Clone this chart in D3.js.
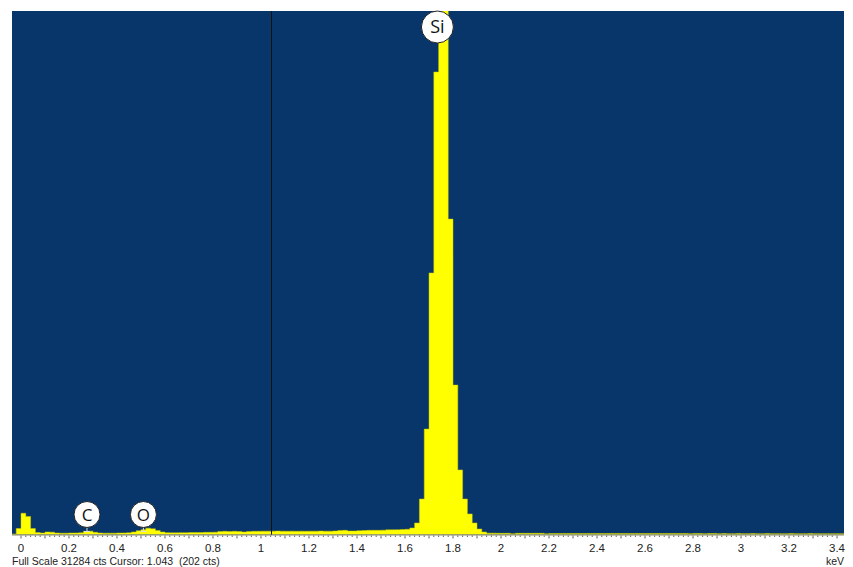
<!DOCTYPE html>
<html>
<head>
<meta charset="utf-8">
<script src="https://d3js.org/d3.v7.min.js"></script>
<style>
  body { margin: 0; background: #fff; }
  svg { display: block; }
</style>
</head>
<body>
<div id="spectrum"></div>
<script>
// channel counts, 0.02 keV per channel, first channel starts at -0.04 keV
const binStart = -0.04;
const binWidth = 0.02;
const counts = [
    30, 360, 1270, 1080, 360, 120, 90, 150, 140, 90,          // -0.04
    80, 80, 90, 90, 100, 190, 200, 130, 90, 80,               // 0.16
    80, 80, 90, 90, 100, 150, 230, 290, 380, 340,             // 0.36
    240, 150, 110, 100, 100, 110, 110, 120, 120, 120,         // 0.56
    130, 130, 140, 180, 190, 180, 190, 180, 150, 180,         // 0.76
    190, 190, 200, 200, 200, 205, 200, 195, 200, 195,         // 0.96
    200, 195, 200, 200, 205, 200, 200, 210, 240, 250,         // 1.16
    210, 210, 230, 240, 250, 250, 250, 260, 280, 280,         // 1.36
    290, 300, 310, 390, 690, 2120, 6300, 15630, 27640, 38500, // 1.56
    35200, 18850, 8930, 3860, 2120, 1230, 690, 330, 150, 80,  // 1.76
    80, 70, 70, 70, 40, 70, 70, 70, 70, 70,                   // 1.96
    70, 40, 60, 60, 60, 60, 60, 60, 60, 60,                   // 2.16
    60, 55, 60, 55, 60, 60, 55, 60, 55, 60,                   // 2.36
    55, 60, 55, 55, 60, 55, 55, 60, 55, 55,                   // 2.56
    55, 50, 55, 55, 50, 55, 55, 50, 55, 50,                   // 2.76
    50, 55, 50, 50, 55, 50, 50, 55, 50, 50,                   // 2.96
    50, 50, 55, 50, 50, 50, 55, 50, 50, 50,                   // 3.16
    50, 50, 50, 50                                            // 3.36
];

const fullScale = 31284;
const cursorKeV = 1.043;
const cursorCts = 202;
const tickLabels = [0, 0.2, 0.4, 0.6, 0.8, 1, 1.2, 1.4, 1.6, 1.8, 2, 2.2, 2.4, 2.6, 2.8, 3, 3.2, 3.4];

// element markers
const elements = ["C", "O", "Si"];
const elementKeV = [0.275, 0.51, 1.735];

const width = 853;
const height = 567;
const plotL = 12, plotT = 11, plotR = 844, plotB = 534.5;

const svg = d3.select("#spectrum")
    .append("svg")
    .attr("width", width)
    .attr("height", height);

const x = d3.scaleLinear()
    .domain([-0.0375, 3.429])
    .range([plotL, plotR]);

const y = d3.scaleLinear()
    .domain([0, fullScale])
    .range([plotB, plotT]);

svg.append("defs").append("clipPath")
    .attr("id", "plot-clip")
    .append("rect")
    .attr("x", plotL)
    .attr("y", plotT)
    .attr("width", plotR - plotL)
    .attr("height", plotB - plotT);

// plot background
svg.append("rect")
    .attr("x", plotL)
    .attr("y", plotT)
    .attr("width", plotR - plotL)
    .attr("height", plotB - plotT)
    .attr("fill", "#08366a");

// spectrum as stepped area
const pts = counts.map((c, i) => [binStart + i * binWidth, c]);
pts.push([binStart + counts.length * binWidth, counts[counts.length - 1]]);

const area = d3.area()
    .x(d => x(d[0]))
    .y0(y(0))
    .y1(d => y(d[1]))
    .curve(d3.curveStepAfter);

svg.append("g")
    .attr("clip-path", "url(#plot-clip)")
    .append("path")
    .datum(pts)
    .attr("d", area)
    .attr("fill", "#ffff00")
    .attr("stroke", "#c8c800")
    .attr("stroke-width", 0.5);

// cursor line
svg.append("line")
    .attr("x1", x(cursorKeV))
    .attr("x2", x(cursorKeV))
    .attr("y1", plotT)
    .attr("y2", plotB)
    .attr("stroke", "#111")
    .attr("stroke-width", 1)
    .attr("shape-rendering", "crispEdges");

// axis line and ticks
svg.append("line")
    .attr("x1", plotL)
    .attr("x2", plotR)
    .attr("y1", plotB + 0.5)
    .attr("y2", plotB + 0.5)
    .attr("stroke", "#8a8a6a")
    .attr("stroke-width", 1);

const minorTicks = d3.range(0, 171).map(i => i * 0.02);
svg.append("g")
    .selectAll("line")
    .data(minorTicks)
    .join("line")
    .attr("x1", d => x(d))
    .attr("x2", d => x(d))
    .attr("y1", plotB + 1)
    .attr("y2", (d, i) => plotB + (i % 5 === 0 ? 4 : 2.5))
    .attr("stroke", "#666")
    .attr("stroke-width", 1);

svg.append("g")
    .selectAll("text")
    .data(tickLabels)
    .join("text")
    .attr("x", d => x(d))
    .attr("y", 552)
    .attr("text-anchor", "middle")
    .attr("font-family", "Liberation Sans, Arial, sans-serif")
    .attr("font-size", 11.5)
    .attr("fill", "#222")
    .text(d => d);

svg.append("text")
    .attr("x", 12)
    .attr("y", 565)
    .attr("font-family", "Liberation Sans, Arial, sans-serif")
    .attr("font-size", 10.5)
    .attr("fill", "#222")
    .attr("xml:space", "preserve")
    .text(`Full Scale ${fullScale} cts Cursor: ${cursorKeV}  (${cursorCts} cts)`);

svg.append("text")
    .attr("x", 844)
    .attr("y", 565)
    .attr("text-anchor", "end")
    .attr("font-family", "Liberation Sans, Arial, sans-serif")
    .attr("font-size", 10.5)
    .attr("fill", "#222")
    .text("keV");

// element labels
const marks = svg.append("g");
elements.forEach((el, i) => {
    const cx = x(elementKeV[i]);
    const big = el === "Si";
    const r = big ? 16 : 13;
    const cy = big ? plotT + r : 514.5;
    if (!big) {
        marks.append("line")
            .attr("x1", cx).attr("x2", cx)
            .attr("y1", cy + r).attr("y2", cy + r + 4)
            .attr("stroke", "#ddd").attr("stroke-width", 1);
        marks.append("line")
            .attr("x1", cx - 3).attr("x2", cx + 3)
            .attr("y1", cy + r + 4).attr("y2", cy + r + 4)
            .attr("stroke", "#ddd").attr("stroke-width", 1);
    }
    marks.append("circle")
        .attr("cx", cx)
        .attr("cy", cy)
        .attr("r", r)
        .attr("fill", "#fff")
        .attr("stroke", "#222")
        .attr("stroke-width", 1);
    marks.append("text")
        .attr("x", cx)
        .attr("y", cy + 6)
        .attr("text-anchor", "middle")
        .attr("font-family", "Open Sans, Noto Sans, sans-serif")
        .attr("font-size", big ? 18 : 17)
        .attr("fill", "#111")
        .text(el);
});
</script>
</body>
</html>
